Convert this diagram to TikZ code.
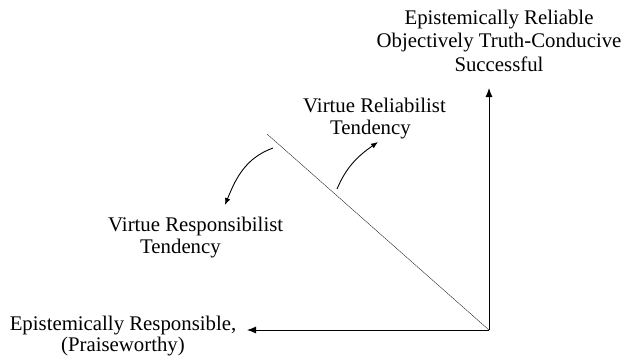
\documentclass[tikz,border=0pt]{standalone}
\usepackage{fontspec}
\setmainfont{Liberation Serif}
\usetikzlibrary{arrows.meta}
\tikzset{
  lbl/.style={font=\fontsize{20.8}{22}\selectfont, inner sep=0pt},
  axis/.style={line width=0.9pt, -{Latex[length=9pt,width=7pt]}},
  tend/.style={line width=0.9pt, -{Latex[length=7pt,width=5.5pt]}}
}
\begin{document}
\begin{tikzpicture}[x=1pt,y=1pt]
  \useasboundingbox (0,0) rectangle (629,360);
  % ejes
  \coordinate (O) at (489,30);
  \coordinate (top) at (489,272);
  \coordinate (left) at (247,30);
  \draw[axis] (O) -- (top);
  \draw[axis] (O) -- (left);

  % diagonal
  \coordinate (diag) at (267,226);
  \draw[line width=0.3pt] (diag) -- (O);

  % textos
  \node[lbl, align=center, anchor=north, font=\fontsize{20.8}{23.5}\selectfont]
    (reliable) at (499,350.3) {Epistemically Reliable\\Objectively Truth-Conducive\\Successful};
  \node[lbl, align=center, anchor=north, font=\fontsize{20.8}{21.5}\selectfont]
    (respons) at (123,44.3) {Epistemically Responsible,\\(Praiseworthy)};
  \node[lbl, align=left, anchor=north west] (reltend) at (303,262.2)
    {Virtue Reliabilist\\\hspace*{27pt}Tendency};
  \node[lbl, align=left, anchor=north west] (restend) at (108,143.5)
    {Virtue Responsibilist\\\hspace*{32pt}Tendency};

  % flechas de tendencia
  \coordinate (a1) at (337,171);
  \coordinate (a2) at (378,218);
  \coordinate (b1) at (273,212);
  \coordinate (b2) at (225,155);
  \draw[tend] (a1) to[out=67, in=215] (a2);
  \draw[tend] (b1) to[out=200, in=68] (b2);
\end{tikzpicture}
\end{document}
